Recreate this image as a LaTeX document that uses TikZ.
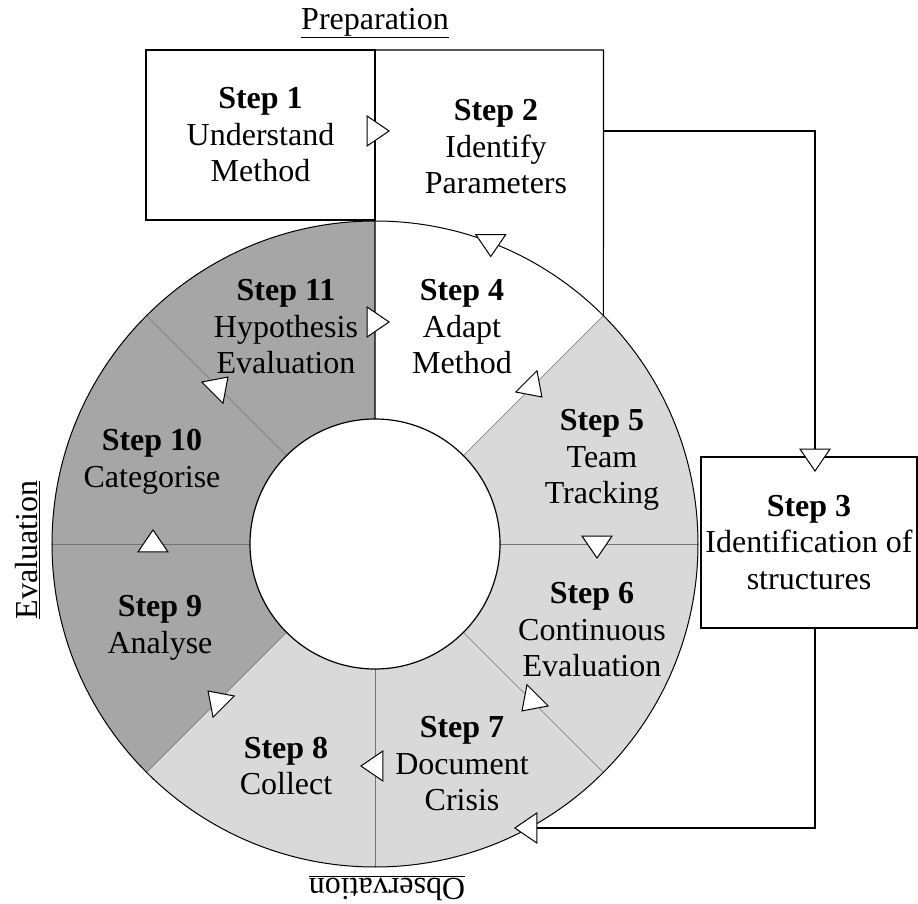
\documentclass[tikz,border=0pt]{standalone}
\usepackage{fontspec}
\setmainfont{Liberation Serif}
\usepackage{xcolor}
\usetikzlibrary{shapes.geometric}
\definecolor{ringlight}{HTML}{D9D9D9}
\definecolor{ringdark}{HTML}{A6A6A6}
\tikzset{
	steptext/.style={align=center,font=\fontsize{32}{36.5}\selectfont},
	stepbox/.style={steptext,draw,line width=1.2pt},
	flowtri/.style={draw,fill=white,line width=1pt,isosceles triangle,
			isosceles triangle stretches,minimum width=30pt,minimum height=22pt,inner sep=0pt},
	divider/.style={draw=black!55,line width=0.7pt}
}

\begin{document}
\begin{tikzpicture}[x=1pt,y=1pt]
	\useasboundingbox (-375,-360) rectangle (543,544);
	% ring sectors
	\foreach \a/\c in {45/white,0/ringlight,-45/ringlight,-90/ringlight,-135/ringlight,180/ringdark,135/ringdark,90/ringdark}
	\fill[\c] (\a:125) -- (\a:323) arc[start angle=\a,end angle=\a+45,radius=323pt]
	-- (\a+45:125) arc[start angle=\a+45,end angle=\a,radius=125pt] -- cycle;
	\foreach \a in {45,0,-45,-90,-135,180,135}
	\draw[divider] (\a:125) -- (\a:323);
	\draw[line width=1pt] (0,0) circle[radius=323pt];
	\draw[line width=1.2pt,fill=white] (0,0) circle[radius=125pt];
	% preparation boxes
	\node[stepbox,minimum width=229pt,minimum height=170pt] (s1) at (-114.5,409) {\textbf{Step 1}\\Understand\\Method};
	\draw[line width=1.2pt] (0,125) -- (0,494) -- (228.4,494) -- (45:323);
	\node[steptext] (s2) at (121,397) {\textbf{Step 2}\\Identify\\Parameters};
	\node[stepbox,minimum width=216pt,minimum height=171pt] (s3) at (434,1.5) {\textbf{Step 3}\\Identification of\\structures};
	% connectors
	\coordinate (s2out) at (228.4,413);
	\coordinate (s3in) at (440,87);
	\coordinate (s3out) at (440,-84);
	\coordinate (s7in) at (153.9,-284);
	\draw[line width=1.2pt] (s2out) -| (s3in);
	\draw[line width=1.2pt] (s3out) |- (s7in);
	% ring steps
	\foreach \pos/\lbl [count=\i from 4] in {{(87,217)}/{\textbf{Step 4}\\Adapt\\Method},
			{(227,84)}/{\textbf{Step 5}\\Team\\Tracking},
			{(217,-86)}/{\textbf{Step 6}\\Continuous\\Evaluation},
			{(87,-220)}/{\textbf{Step 7}\\Document\\Crisis},
			{(-89,-222)}/{\textbf{Step 8}\\Collect},
			{(-215,-84)}/{\textbf{Step 9}\\Analyse},
			{(-223,82)}/{\textbf{Step 10}\\Categorise},
			{(-89,217)}/{\textbf{Step 11}\\Hypothesis\\Evaluation}}
	\node[steptext] (s\i) at \pos {\lbl};
	% phase labels
	\node[steptext] (prep) at (0,521) {\underline{Preparation}};
	\node[steptext,rotate=90] (eval) at (-347,-6) {\underline{Evaluation}};
	\node[steptext,rotate=180] (obs) at (12,-344) {\underline{Observation}};
	% flow triangles
	\foreach \ang [count=\i] in {90,45,0,-45,-90,-135,180,135}
	\node[flowtri,rotate=\ang-90] (tr\i) at (\ang:222) {};
	\node[flowtri] (tr12) at (0,413) {};
	\node[flowtri,rotate=-90] (tr24) at (69:323) {};
	\node[flowtri,rotate=-90] (tr23) at (s3in) {};
	\node[flowtri,rotate=180] (tr37) at (s7in) {};
\end{tikzpicture}
\end{document}
